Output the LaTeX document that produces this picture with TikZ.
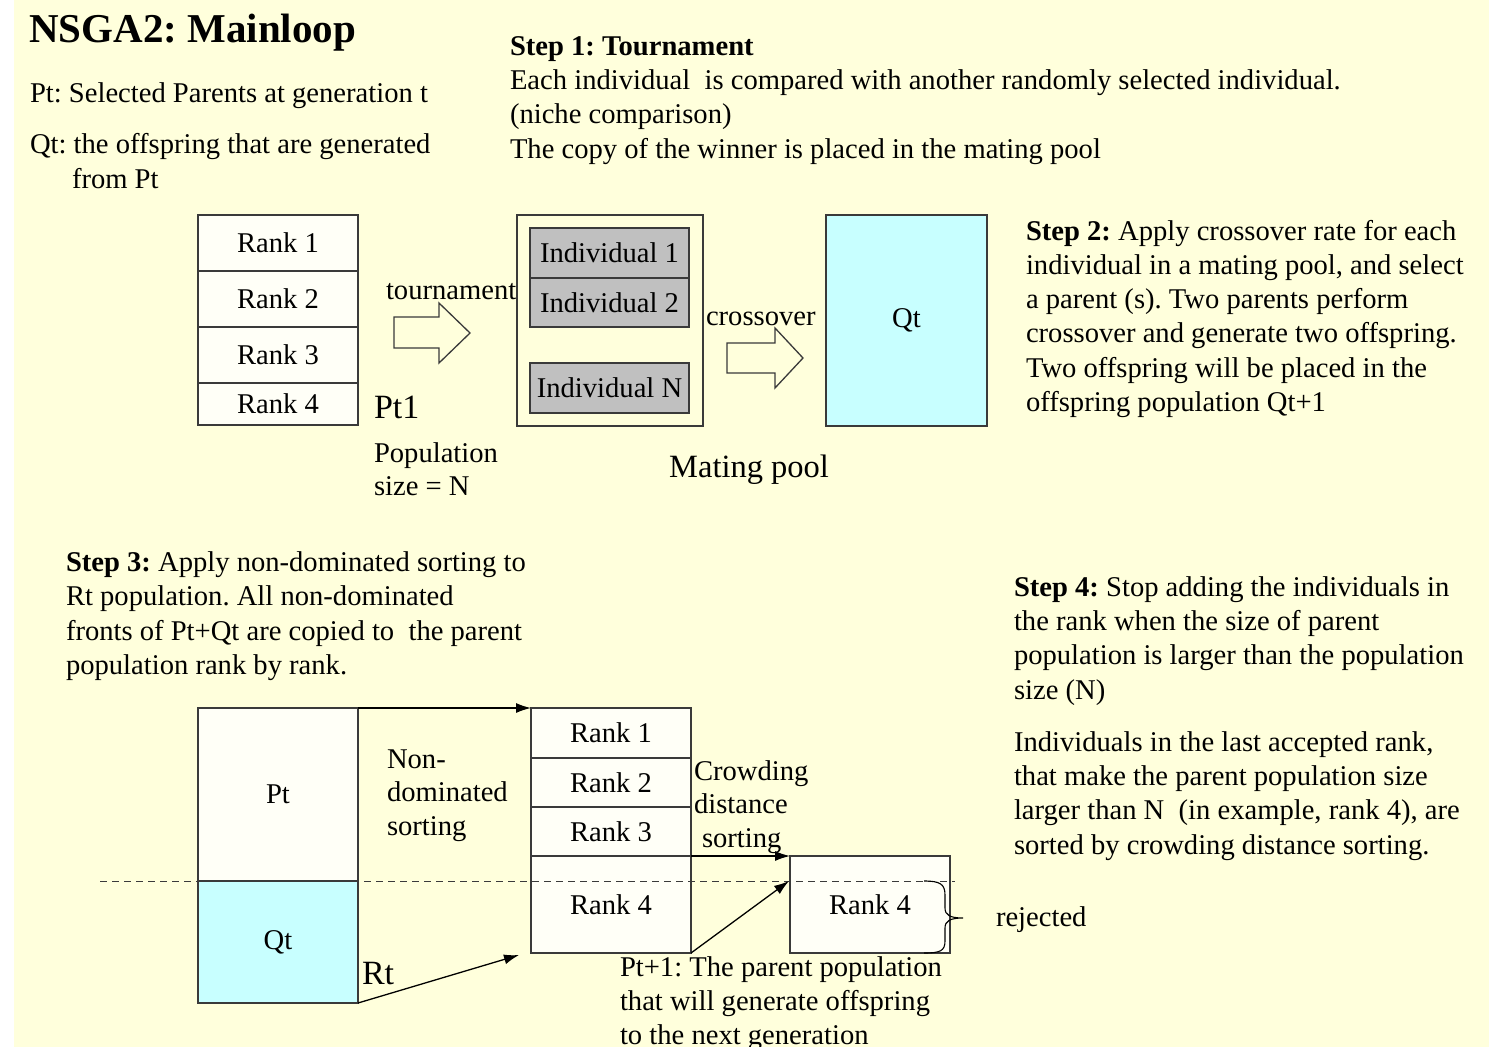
\documentclass[tikz,border=0pt]{standalone}
\usepackage{fontspec}
\setmainfont{Liberation Serif}
\usetikzlibrary{arrows.meta}
\frenchspacing

\definecolor{paper}{HTML}{FFFFDC}
\definecolor{cellfill}{HTML}{FFFFF7}
\definecolor{cyanfill}{HTML}{C8FFFF}
\definecolor{grayfill}{HTML}{C0C0C0}
\definecolor{edge}{HTML}{3A3A3A}

\tikzset{
  body/.style={font=\fontsize{28.6}{34.4}\selectfont, inner sep=0pt, outer sep=0pt, anchor=base west},
  bigtxt/.style={font=\fontsize{34}{40}\selectfont, inner sep=0pt, outer sep=0pt, anchor=base west},
  cell/.style={draw=edge, line width=1.3pt, fill=cellfill, minimum width=160pt,
               inner sep=0pt, outer sep=0pt, font=\fontsize{28.6}{34}\selectfont},
  indiv/.style={draw=edge, line width=1.3pt, fill=grayfill, minimum width=159pt,
               inner sep=0pt, outer sep=0pt, font=\fontsize{28.6}{34}\selectfont},
  frame/.style={draw=edge, line width=1.3pt, inner sep=0pt, outer sep=0pt},
  blockarrow/.style={draw=edge, line width=1.3pt, line join=miter},
  conn/.style={draw=black, line width=1.3pt, -{Latex[length=15pt,width=10pt]}},
  cutline/.style={draw=edge, line width=1pt, dash pattern=on 7pt off 5pt},
}

\begin{document}
\begin{tikzpicture}[x=1pt, y=-1pt]
% page and yellow slide background
\useasboundingbox (0,0) rectangle (1489,1047);
\fill[white] (0,0) rectangle (1489,1047);
\fill[paper] (14,0) rectangle (1489,1047);

% title and definitions
\node[anchor=base west, inner sep=0pt, font=\fontsize{41}{48}\selectfont\bfseries] (title) at (29,42) {NSGA2: Mainloop};
\node[body] (defpt) at (30,102) {Pt: Selected Parents at generation t};
\node[body] (defqt) at (30,153) {Qt: the offspring that are generated};
\node[body] (defqt2) at (72,188) {from Pt};

% step 1 text
\foreach \t [count=\i from 0] in {{\textbf{Step 1: Tournament}},
    {Each individual\ \ is compared with another randomly selected individual.},
    {(niche comparison)},
    {The copy of the winner is placed in the mating pool}}
  \node[body] (s1-\i) at (510,55+34.4*\i) {\t};

% step 2 text
\foreach \t [count=\i from 0] in {{\textbf{Step 2:} Apply crossover rate for each},
    {individual in a mating pool, and select},
    {a parent (s). Two parents perform},
    {crossover and generate two offspring.},
    {Two offspring will be placed in the},
    {offspring population Qt+1}}
  \node[body] (s2-\i) at (1026,240+34.3*\i) {\t};

% ---- upper diagram: population, mating pool, offspring ----
\node[cell, minimum height=56pt] (rk1) at (278,243) {Rank 1};
\node[cell, minimum height=56pt] (rk2) at (278,299) {Rank 2};
\node[cell, minimum height=56pt] (rk3) at (278,355) {Rank 3};
\node[cell, minimum height=42pt] (rk4) at (278,404) {Rank 4};

\node[bigtxt] (pt1) at (374,418) {Pt1};
\node[body] (popsize1) at (374,462) {Population};
\node[body] (popsize2) at (374,495) {size = N};

\node[body] (tourn) at (386,299) {tournament};
\draw[blockarrow] (394,317) -- (439,317) -- (439,303) -- (470,333)
                  -- (439,363) -- (439,348) -- (394,348) -- cycle;

\node[frame, minimum width=186pt, minimum height=211pt] (pool) at (610,320.5) {};
\node[indiv, minimum height=50pt] (ind1) at (609.5,253) {Individual 1};
\node[indiv, minimum height=49pt] (ind2) at (609.5,302.5) {Individual 2};
\node[indiv, minimum height=50pt] (indN) at (609.5,388) {Individual N};
\node[anchor=base west, inner sep=0pt, font=\fontsize{32.5}{38}\selectfont] (poolname) at (669,477) {Mating pool};

\node[body] (cross) at (706,325) {crossover};
\draw[blockarrow] (727,343) -- (775,343) -- (775,328) -- (803,358)
                  -- (775,388) -- (775,373) -- (727,373) -- cycle;

\node[frame, fill=cyanfill, minimum width=161pt, minimum height=211pt,
      font=\fontsize{28.6}{34}\selectfont] (qtop) at (906.5,320.5) {Qt};

% step 3 and step 4 text
\foreach \t [count=\i from 0] in {{\textbf{Step 3:} Apply non-dominated sorting to},
    {Rt population. All non-dominated},
    {fronts of Pt+Qt are copied to\ \ the parent},
    {population rank by rank.}}
  \node[body] (s3-\i) at (66,571+34.6*\i) {\t};

\foreach \t [count=\i from 0] in {{\textbf{Step 4:} Stop adding the individuals in},
    {the rank when the size of parent},
    {population is larger than the population},
    {size (N)}}
  \node[body] (s4-\i) at (1014,596+34.4*\i) {\t};

\foreach \t [count=\i from 0] in {{Individuals in the last accepted rank,},
    {that make the parent population size},
    {larger than N\ \ (in example, rank 4), are},
    {sorted by crowding distance sorting.}}
  \node[body] (s4b-\i) at (1014,751+34.4*\i) {\t};

% ---- lower diagram: Rt, sorted fronts, truncated rank ----
\node[cell, minimum height=173pt] (pt) at (278,794.5) {Pt};
\node[cell, fill=cyanfill, minimum height=122pt] (qt) at (278,942) {Qt};
\node[bigtxt] (rtlab) at (362,984) {Rt};

\node[body] (nds-0) at (387,768) {Non-};
\node[body] (nds-1) at (387,801) {dominated};
\node[body] (nds-2) at (387,835) {sorting};

\node[cell, minimum height=50pt] (nr1) at (611,733) {Rank 1};
\node[cell, minimum height=49pt] (nr2) at (611,782.5) {Rank 2};
\node[cell, minimum height=49pt] (nr3) at (611,831.5) {Rank 3};
\node[cell, minimum height=97pt] (nr4) at (611,904.5) {Rank 4};

\node[body] (cds-0) at (694,780) {Crowding};
\node[body] (cds-1) at (694,813) {distance};
\node[body] (cds-2) at (702,847) {sorting};

\node[cell, minimum height=97pt] (r4new) at (870,904.5) {Rank 4};
\coordinate (cut) at (789,881);
\coordinate (rtend) at (519,955);

% cut-off level of the parent population
\coordinate (cutleft) at (100,881);
\coordinate (cutright) at (955,881);
\draw[cutline] (cutleft) -- (cutright);

% connectors
\draw[conn] (pt.north east) -- (nr1.north west);
\draw[conn] (qt.south east) -- (rtend);
\draw[conn] (nr3.south east) -- (r4new.north west);
\draw[conn] (nr4.south east) -- (cut);

% brace marking the rejected part of rank 4
\draw[black, line width=1.1pt] (924,881) .. controls (940,881) and (945,884) .. (945,895)
   -- (945,908) .. controls (945,915) and (950,918) .. (963,918)
   .. controls (950,918) and (945,921) .. (945,928)
   -- (945,941) .. controls (945,951) and (940,953) .. (924,953);
\node[body] (rej) at (996,926) {rejected};

\foreach \t [count=\i from 0] in {{Pt+1: The parent population},
    {that will generate offspring},
    {to the next generation}}
  \node[body] (pnext-\i) at (620,976+34*\i) {\t};
\end{tikzpicture}
\end{document}
